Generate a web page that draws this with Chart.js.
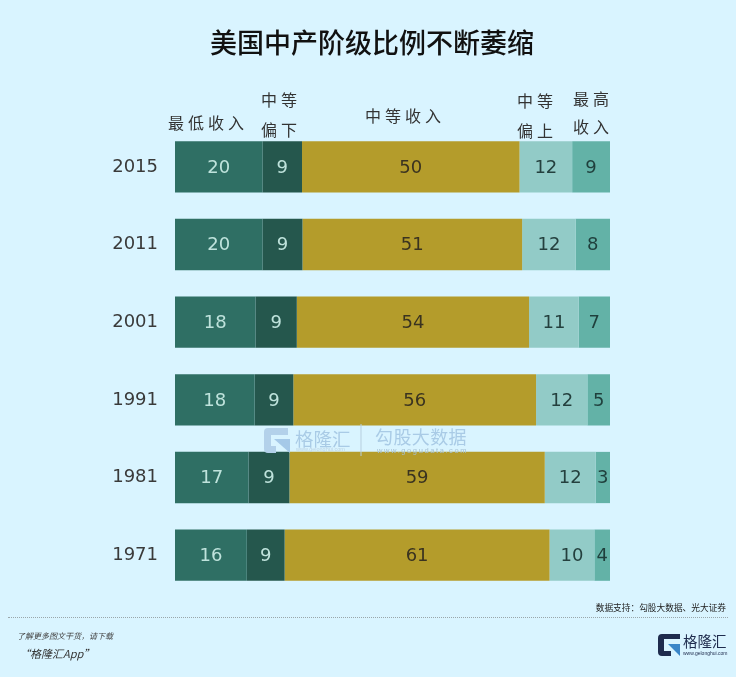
<!DOCTYPE html>
<html>
<head>
<meta charset="utf-8">
<style>
  html, body { margin: 0; padding: 0; background: #d9f4ff; }
  body { width: 736px; height: 677px; position: relative; overflow: hidden; font-family: "Noto Sans CJK SC", sans-serif; }
  #chart { position: absolute; left: 0; top: 0; }
  .txt { position: absolute; white-space: nowrap; }
  .head { color: #333; font-size: 16px; line-height: 30px; text-align: center; letter-spacing: 4px; transform: translateX(-50%); }
  #title { left: 372px; top: 22px; transform: translateX(-50%); font-size: 27px; line-height: 40px; font-weight: 500; color: #111; }
  #rule { position: absolute; left: 8px; top: 617px; width: 720px; border-top: 1px dotted #9aa6aa; }
</style>
</head>
<body>
<canvas id="chart" width="736" height="677"></canvas>

<div class="txt" id="title">美国中产阶级比例不断萎缩</div>

<div class="txt head" style="left:208px;top:107px">最低收入</div>
<div class="txt head" style="left:281px;top:84px">中等<br>偏下</div>
<div class="txt head" style="left:405px;top:100px">中等收入</div>
<div class="txt head" style="left:537px;top:85px">中等<br>偏上</div>
<div class="txt head" style="left:593px;top:84px;line-height:28px">最高<br>收入</div>

<!-- watermark -->
<svg style="position:absolute;left:0;top:0" width="736" height="677">
  <path d="M288 428 H268 Q264 428 264 432 V449 Q264 453 268 453 H276 V446 H271 V435 H288 Z" fill="#b3d1ea"/>
  <path d="M274 439 H290 V453 Z" fill="#a5c9e8"/>
  <line x1="361" y1="424" x2="361" y2="456" stroke="#b7cfdf"/>
</svg>
<div class="txt" style="left:295px;top:425px;font-size:18.5px;color:#a9cbe6">格隆汇</div>
<div class="txt" style="left:296px;top:446px;font-size:5.5px;color:#bcd3e3;font-family:'Liberation Sans'">www.gelonghui.com</div>
<div class="txt" style="left:375px;top:423px;font-size:18px;letter-spacing:.4px;color:#a9cbe6">勾股大数据</div>
<div class="txt" style="left:377px;top:446px;font-size:7.5px;letter-spacing:1.6px;color:#a5c1d4;font-family:'Liberation Sans'">www.gogudata.com</div>

<div class="txt" style="right:10px;top:601px;font-size:8.7px;color:#222">数据支持：勾股大数据、光大证券</div>
<div id="rule"></div>
<div class="txt" style="left:17px;top:630px;font-size:8px;font-style:italic;color:#444">了解更多图文干货，请下载</div>
<div class="txt" style="left:19px;top:645px;font-size:11px;font-style:italic;color:#333">“格隆汇App”</div>

<svg style="position:absolute;left:0;top:0" width="736" height="677">
  <path d="M680 634 H662 Q658 634 658 638 V652 Q658 656 662 656 H671 V651 H664 V639 H680 Z" fill="#1e2b4d"/>
  <path d="M668 644 H680 V656 Z" fill="#3a86c8"/>
</svg>
<div class="txt" style="left:683px;top:630px;font-size:14.5px;color:#1e2b4d">格隆汇</div>
<div class="txt" style="left:683px;top:650px;font-size:5px;color:#1e2b4d;font-family:'Liberation Sans'">www.gelonghui.com</div>

<script src="https://cdn.jsdelivr.net/npm/chart.js@4"></script>
<script>
const years = ['2015', '2011', '2001', '1991', '1981', '1971'];
const seriesNames = ['最低收入', '中等偏下', '中等收入', '中等偏上', '最高收入'];

// bar lengths (source bars use unrounded shares)
const lowest = [20.1, 20.1, 18.5, 18.3, 16.9, 16.5];
const lowerMiddle = [9.1, 9.2, 9.5, 8.9, 9.4, 8.7];
const middle = [50, 50.5, 53.4, 55.8, 58.7, 60.9];
const upperMiddle = [12.1, 12.3, 11.4, 11.8, 11.7, 10.3];
const highest = [8.7, 7.9, 7.2, 5.2, 3.3, 3.6];

// numbers as printed on the bars
const lowestText = [20, 20, 18, 18, 17, 16];
const lowerMiddleText = [9, 9, 9, 9, 9, 9];
const middleText = [50, 51, 54, 56, 59, 61];
const upperMiddleText = [12, 12, 11, 12, 12, 10];
const highestText = [9, 8, 7, 5, 3, 4];

const colors = ['#2f6f64', '#25574d', '#b49c2b', '#92cbc7', '#63b2a7'];
const labelColors = ['#bfe3dc', '#bfe3dc', '#3a3320', '#24403e', '#1f3f3c'];
const printed = [lowestText, lowerMiddleText, middleText, upperMiddleText, highestText];

// prints the number in the middle of each segment
const segmentLabels = {
  id: 'segmentLabels',
  afterDatasetsDraw(chart) {
    const ctx = chart.ctx;
    ctx.save();
    ctx.font = '18px "DejaVu Sans", sans-serif';
    ctx.textAlign = 'center';
    ctx.textBaseline = 'middle';
    chart.data.datasets.forEach((ds, i) => {
      chart.getDatasetMeta(i).data.forEach((bar, j) => {
        ctx.fillStyle = labelColors[i];
        ctx.fillText(printed[i][j], (bar.base + bar.x) / 2, bar.y + 1);
      });
    });
    ctx.restore();
  }
};

new Chart(document.getElementById('chart'), {
  type: 'bar',
  data: {
    labels: years,
    datasets: [lowest, lowerMiddle, middle, upperMiddle, highest].map((data, i) => ({
      label: seriesNames[i],
      data: data,
      backgroundColor: colors[i],
      barPercentage: 0.66,
      categoryPercentage: 1
    }))
  },
  options: {
    indexAxis: 'y',
    responsive: false,
    animation: false,
    layout: { padding: { left: 0, right: 126, top: 128, bottom: 83 } },
    plugins: {
      legend: { display: false },
      tooltip: { enabled: false },
      title: { display: false }
    },
    scales: {
      x: { stacked: true, display: false, min: 0, max: 100 },
      y: {
        stacked: true,
        afterFit(axis) { axis.width = 175; },
        grid: { display: false },
        border: { display: false },
        ticks: { color: '#3a3a3a', padding: 9, font: { size: 18, family: '"DejaVu Sans"' } }
      }
    }
  },
  plugins: [segmentLabels]
});
</script>
</body>
</html>
